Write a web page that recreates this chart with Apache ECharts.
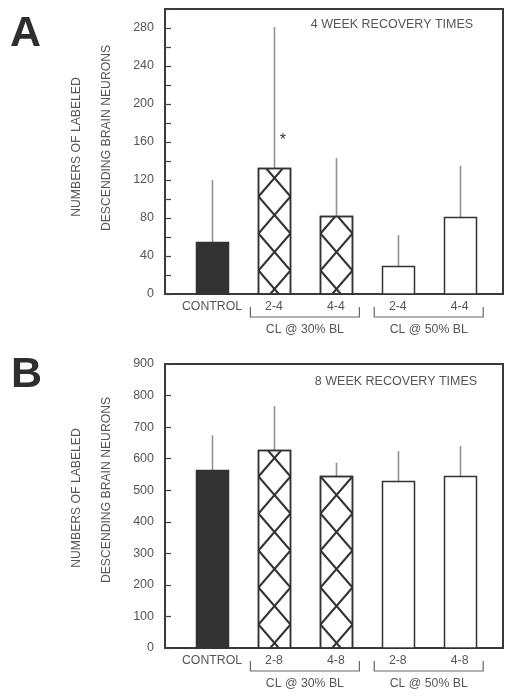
<!DOCTYPE html>
<html><head><meta charset="utf-8">
<script src="https://cdn.jsdelivr.net/npm/echarts@6/dist/echarts.min.js"></script>
<style>html,body{margin:0;padding:0;background:#fff}#c{width:513px;height:700px}</style>
</head><body><div id="c"></div>
<script>
// ---- data ----
const categoriesA = ['CONTROL', '2-4', '4-4', '2-4', '4-4'];
const categoriesB = ['CONTROL', '2-8', '4-8', '2-8', '4-8'];
const fills = ['solid', 'hatch', 'hatch', 'open', 'open'];
const meansA = [55, 133, 82, 30, 81];
const errTopA = [120, 281, 143, 62, 135];
const meansB = [565, 627, 544, 530, 544];
const errTopB = [674, 767, 587, 624, 640];
const groupNames = ['CL @ 30% BL', 'CL @ 50% BL'];
const groupFrom = [2, 4];
const groupTo = [3, 5];
const titleA = '4 WEEK RECOVERY TIMES';
const titleB = '8 WEEK RECOVERY TIMES';
const yTitle1 = 'NUMBERS OF LABELED';
const yTitle2 = 'DESCENDING BRAIN NEURONS';
const yMaxA = 300, yStepA = 20, yLabelStepA = 40;
const yMaxB = 900, yStepB = 100;
const starA = [[2, 161]]; // significance marker (category, value)

// ---- drawing ----
const FONT = "'Liberation Sans', Arial, sans-serif";
const TXT = '#555';
const DARK = '#333';
const chart = echarts.init(document.getElementById('c'), null, {renderer: 'canvas'});

function clipSeg(x1, y1, x2, y2, ymin, ymax) {
  let t0 = 0, t1 = 1;
  const dy = y2 - y1;
  if (Math.abs(dy) < 1e-9) { if (y1 < ymin || y1 > ymax) return null; return [x1, y1, x2, y2]; }
  let ta = (ymin - y1) / dy, tb = (ymax - y1) / dy;
  if (ta > tb) { const t = ta; ta = tb; tb = t; }
  t0 = Math.max(t0, ta); t1 = Math.min(t1, tb);
  if (t0 >= t1) return null;
  return [x1 + (x2 - x1) * t0, y1 + dy * t0, x1 + (x2 - x1) * t1, y1 + dy * t1];
}

function barRenderer(params, api) {
  const x = api.value(0), m = api.value(1), e = api.value(2);
  const f = fills[params.dataIndex];
  const pB = api.coord([x, 0]), pT = api.coord([x, m]), pE = api.coord([x, e]);
  const w = 32;
  const x0 = Math.round(pB[0] - w / 2) + 0.5, x1 = x0 + w;
  const yb = pB[1], yt = Math.round(pT[1]) + 0.5;
  const cx = Math.round(pB[0]) + 0.5;
  const children = [];
  children.push({type: 'line', shape: {x1: cx, y1: yt, x2: cx, y2: pE[1]}, style: {stroke: '#939393', lineWidth: 1.6}});
  children.push({type: 'rect', shape: {x: x0, y: yt, width: w, height: yb - yt},
    style: {fill: f === 'solid' ? DARK : '#fff', stroke: DARK, lineWidth: 1.5}});
  if (f === 'hatch') {
    const P = 37, off = 5;
    for (let k = -1; k * P < (yb - yt) + P; k++) {
      const yc = yb - off - k * P;
      const segs = [clipSeg(x0, yc + P / 2, x1, yc - P / 2, yt, yb), clipSeg(x0, yc - P / 2, x1, yc + P / 2, yt, yb)];
      segs.forEach(s => { if (s) children.push({type: 'line', shape: {x1: s[0], y1: s[1], x2: s[2], y2: s[3]}, style: {stroke: DARK, lineWidth: 2}}); });
    }
    children.push({type: 'rect', shape: {x: x0, y: yt, width: w, height: yb - yt}, style: {fill: 'none', stroke: DARK, lineWidth: 1.5}});
  }
  return {type: 'group', children};
}

function bracketRenderer(params, api) {
  const from = api.value(0), to = api.value(1);
  const pad = 0.38;
  const a = api.coord([from - pad, 0]), b = api.coord([to + pad, 0]);
  const y0 = a[1];
  const yh = y0 + 23, yv = y0 + 13;
  return {type: 'group', children: [
    {type: 'polyline', shape: {points: [[a[0], yv], [a[0], yh], [b[0], yh], [b[0], yv]]}, style: {fill: 'none', stroke: '#666', lineWidth: 1.2}},
    {type: 'text', style: {text: groupNames[params.dataIndex], x: (a[0] + b[0]) / 2, y: y0 + 36, align: 'center', verticalAlign: 'middle', fill: TXT, font: '12.3px ' + FONT}}
  ]};
}

function starRenderer(params, api) {
  const p = api.coord([api.value(0), api.value(1)]);
  return {type: 'text', style: {text: '*', x: p[0] + 9, y: p[1], align: 'center', verticalAlign: 'middle', fill: DARK, font: '16px ' + FONT}};
}

function xAxisFor(i, cats) {
  return {gridIndex: i, type: 'value', min: 0.24, max: 5.7,
    splitLine: {show: false}, axisLine: {show: false}, axisTick: {show: false},
    axisLabel: {customValues: [1, 2, 3, 4, 5], formatter: v => cats[Math.round(v) - 1] || '', margin: 7,
      fontSize: 12.3, color: TXT, fontFamily: FONT}};
}

const barsA = meansA.map((m, i) => [i + 1, m, errTopA[i]]);
const barsB = meansB.map((m, i) => [i + 1, m, errTopB[i]]);
const groups = groupNames.map((n, i) => [groupFrom[i], groupTo[i]]);

function yTitle(cy1, cy2) {
  return [
    {type: 'text', x: 77, y: cy1, rotation: Math.PI / 2, style: {text: yTitle1, align: 'center', verticalAlign: 'middle', fill: TXT, font: '12.2px ' + FONT}},
    {type: 'text', x: 107, y: cy2, rotation: Math.PI / 2, style: {text: yTitle2, align: 'center', verticalAlign: 'middle', fill: TXT, font: '12.2px ' + FONT}}
  ];
}

const option = {
  animation: false,
  backgroundColor: '#fff',
  grid: [
    {left: 165, top: 9, width: 338, height: 285, show: true, borderColor: '#3a3a3a', borderWidth: 2, backgroundColor: 'transparent'},
    {left: 165, top: 364, width: 338, height: 284, show: true, borderColor: '#3a3a3a', borderWidth: 2, backgroundColor: 'transparent'}
  ],
  xAxis: [xAxisFor(0, categoriesA), xAxisFor(1, categoriesB)],
  yAxis: [
    {gridIndex: 0, type: 'value', min: 0, max: yMaxA, interval: yStepA, splitLine: {show: false}, axisLine: {show: false},
      axisTick: {show: true, inside: true, length: 6, lineStyle: {color: '#444', width: 1.2}},
      axisLabel: {formatter: v => (v % yLabelStepA === 0 && v < yMaxA) ? String(v) : '', margin: 11, fontSize: 12.5, color: TXT, fontFamily: FONT}},
    {gridIndex: 1, type: 'value', min: 0, max: yMaxB, interval: yStepB, splitLine: {show: false}, axisLine: {show: false},
      axisTick: {show: true, inside: true, length: 6, lineStyle: {color: '#444', width: 1.2}},
      axisLabel: {margin: 11, fontSize: 12.5, color: TXT, fontFamily: FONT}}
  ],
  series: [
    {type: 'custom', xAxisIndex: 0, yAxisIndex: 0, data: barsA, renderItem: barRenderer, clip: false},
    {type: 'custom', xAxisIndex: 1, yAxisIndex: 1, data: barsB, renderItem: barRenderer, clip: false},
    {type: 'custom', xAxisIndex: 0, yAxisIndex: 0, data: groups, renderItem: bracketRenderer, clip: false},
    {type: 'custom', xAxisIndex: 1, yAxisIndex: 1, data: groups, renderItem: bracketRenderer, clip: false},
    {type: 'custom', xAxisIndex: 0, yAxisIndex: 0, data: starA, renderItem: starRenderer, clip: false}
  ],
  graphic: [
    {type: 'text', x: 10, y: 34, style: {text: 'A', font: 'bold 43px ' + FONT, fill: '#2e2e2e', verticalAlign: 'middle'}},
    {type: 'text', x: 11, y: 375, style: {text: 'B', font: 'bold 43px ' + FONT, fill: '#2e2e2e', verticalAlign: 'middle'}},
    {type: 'text', x: 392, y: 25, style: {text: titleA, align: 'center', verticalAlign: 'middle', fill: TXT, font: '12.5px ' + FONT}},
    {type: 'text', x: 396, y: 382, style: {text: titleB, align: 'center', verticalAlign: 'middle', fill: TXT, font: '12.5px ' + FONT}},
    ...yTitle(147, 138),
    ...yTitle(498, 490)
  ]
};
chart.setOption(option);
</script></body></html>
